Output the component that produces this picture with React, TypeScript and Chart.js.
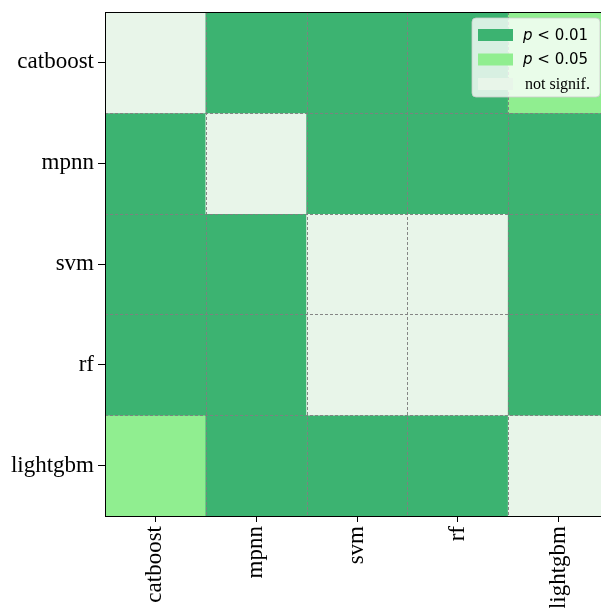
import React, { useEffect, useRef } from "react";
import { Chart, registerables } from "chart.js";

Chart.register(...registerables);

// Models (rows top→bottom, columns left→right)
const models = ["catboost", "mpnn", "svm", "rf", "lightgbm"];

// Significance level per cell: 0 = not signif., 1 = p < 0.01, 2 = p < 0.05
const catboostRow = [0, 1, 1, 1, 2];
const mpnnRow = [1, 0, 1, 1, 1];
const svmRow = [1, 1, 0, 0, 1];
const rfRow = [1, 1, 0, 0, 1];
const lightgbmRow = [2, 1, 1, 1, 0];
const significance = [catboostRow, mpnnRow, svmRow, rfRow, lightgbmRow];

// Levels: colours and legend texts
const levelColors = ["#E8F5E9", "#3CB371", "#90EE90"];
const legendOrder = [1, 2, 0];
const legendLabels = ["not signif.", "p < 0.01", "p < 0.05"];

const cellGridPlugin = {
  id: "cellGrid",
  afterDatasetsDraw(chart: any) {
    const { ctx, chartArea: a, scales } = chart;
    const x = scales.x;
    const y = scales.y;
    ctx.save();
    ctx.strokeStyle = "rgba(128,128,128,0.95)";
    ctx.lineWidth = 1;
    ctx.setLineDash([3, 2]);
    for (let i = 0; i <= models.length; i++) {
      const px = Math.round(x.getPixelForValue(i - 0.5)) + 0.5;
      ctx.beginPath();
      ctx.moveTo(px, a.top);
      ctx.lineTo(px, a.bottom);
      ctx.stroke();
      const py = Math.round(y.getPixelForValue(i - 0.5)) + 0.5;
      ctx.beginPath();
      ctx.moveTo(a.left, py);
      ctx.lineTo(a.right, py);
      ctx.stroke();
    }
    ctx.restore();
  },
  afterDraw(chart: any) {
    const { ctx, chartArea: a } = chart;
    ctx.save();
    // frame
    ctx.strokeStyle = "#000";
    ctx.lineWidth = 1;
    ctx.strokeRect(Math.round(a.left) + 0.5, Math.round(a.top) + 0.5, a.width, a.height);

    // legend
    const bw = 128;
    const bh = 79;
    const bx = 472;
    const by = a.top + 6;
    const r = 4;
    ctx.beginPath();
    ctx.moveTo(bx + r, by);
    ctx.lineTo(bx + bw - r, by);
    ctx.arcTo(bx + bw, by, bx + bw, by + r, r);
    ctx.lineTo(bx + bw, by + bh - r);
    ctx.arcTo(bx + bw, by + bh, bx + bw - r, by + bh, r);
    ctx.lineTo(bx + r, by + bh);
    ctx.arcTo(bx, by + bh, bx, by + bh - r, r);
    ctx.lineTo(bx, by + r);
    ctx.arcTo(bx, by, bx + r, by, r);
    ctx.closePath();
    ctx.fillStyle = "rgba(255,255,255,0.8)";
    ctx.fill();
    ctx.strokeStyle = "rgba(204,204,204,0.8)";
    ctx.stroke();

    legendOrder.forEach((lvl, k) => {
      const cy = by + 17 + k * 24.5;
      ctx.fillStyle = levelColors[lvl];
      ctx.fillRect(bx + 6, cy - 6, 35, 12);
      ctx.fillStyle = "#000";
      ctx.textBaseline = "middle";
      ctx.textAlign = "left";
      const label = legendLabels[lvl];
      const tx = bx + 51;
      if (label.startsWith("p")) {
        ctx.font = "italic 15px 'DejaVu Sans'";
        ctx.fillText("p", tx, cy + 1);
        const pw = ctx.measureText("p").width;
        ctx.font = "15px 'DejaVu Sans'";
        ctx.fillText(label.slice(1), tx + pw, cy + 1);
      } else {
        ctx.font = "16px 'Liberation Serif'";
        ctx.fillText(label, tx + 2, cy + 1);
      }
    });
    ctx.restore();
  },
};

export default function App() {
  const ref = useRef<HTMLCanvasElement | null>(null);

  useEffect(() => {
    if (!ref.current) return;
    const datasets = significance.map((row, r) => ({
      label: models[r],
      data: row.map(() => [r - 0.5, r + 0.5]),
      backgroundColor: row.map((lvl) => levelColors[lvl]),
      borderWidth: 0,
      grouped: false,
      barPercentage: 1,
      categoryPercentage: 1,
    }));
    const tickFont = { family: "'Liberation Serif'", size: 23 };
    const chart = new Chart(ref.current, {
      type: "bar",
      data: { labels: models, datasets: datasets as any },
      options: {
        responsive: false,
        animation: false,
        layout: { padding: { left: 0, top: 12, right: 1, bottom: 0 } },
        plugins: { legend: { display: false }, tooltip: { enabled: false } },
        scales: {
          x: {
            type: "category",
            offset: true,
            grid: {
              offset: false,
              drawOnChartArea: false,
              drawTicks: true,
              tickLength: 6,
              color: "#000",
            },
            border: { display: false },
            ticks: {
              color: "#000",
              font: tickFont,
              minRotation: 90,
              maxRotation: 90,
              padding: 4,
              autoSkip: false,
            },
            afterFit: (s: any) => {
              s.height = 92;
              s.paddingLeft = 0;
              s.paddingRight = 0;
            },
          },
          y: {
            type: "linear",
            reverse: true,
            min: -0.5,
            max: 4.5,
            afterBuildTicks: (s: any) => {
              s.ticks = models.map((_, i) => ({ value: i }));
            },
            grid: {
              drawOnChartArea: false,
              drawTicks: true,
              tickLength: 7,
              color: "#000",
            },
            border: { display: false },
            ticks: {
              color: "#000",
              font: tickFont,
              padding: 4,
              autoSkip: false,
              callback: (v: any) => models[Math.round(Number(v))] ?? "",
            },
            afterFit: (s: any) => {
              s.width = 105;
              s.paddingTop = 0;
              s.paddingBottom = 0;
            },
          },
        },
      },
      plugins: [cellGridPlugin],
    });
    return () => chart.destroy();
  }, []);

  return (
    <div
      style={{
        position: "absolute",
        left: 0,
        top: 0,
        width: 601,
        height: 608,
        overflow: "hidden",
        background: "#fff",
      }}
    >
      <canvas ref={ref} width={610} height={608} style={{ display: "block" }} />
    </div>
  );
}
